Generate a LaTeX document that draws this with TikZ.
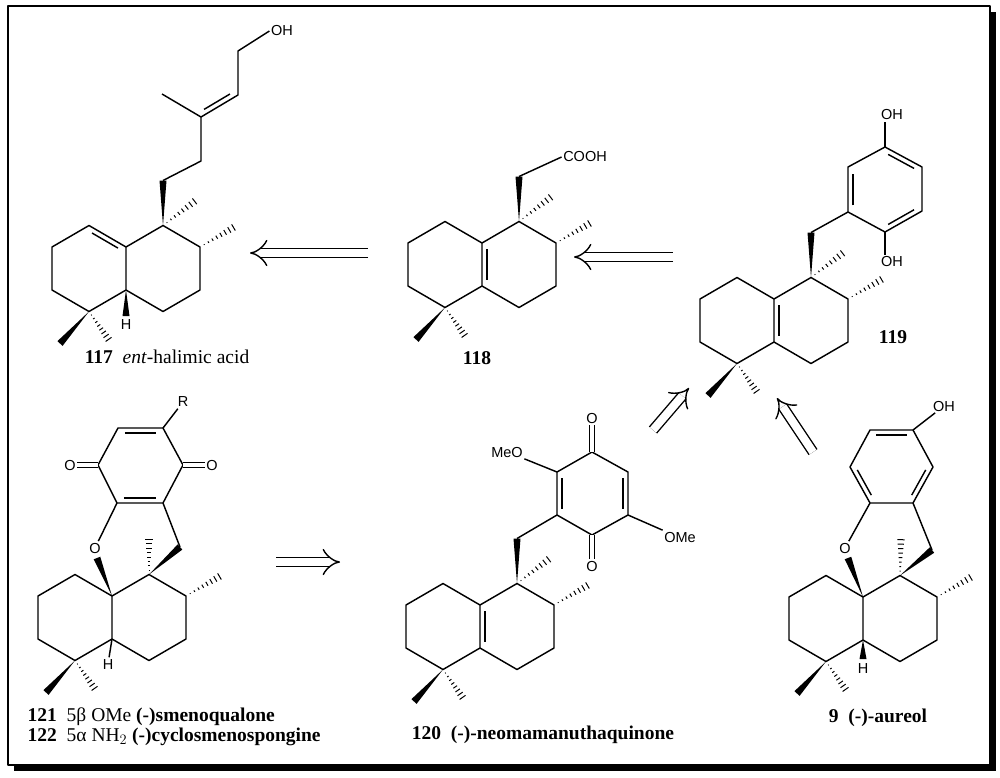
\documentclass[tikz,border=0pt]{standalone}
\usepackage{fontspec}
\setmainfont{Liberation Serif}
\newfontfamily\atomf{Liberation Sans}
\usetikzlibrary{calc,arrows.meta}
\newcommand\hb[2]{\foreach \i in {1,...,8}{\path (#1) -- (#2) coordinate[pos=\i/8.6] (hp); \draw[line width=1pt] ($(hp)!{\i*0.45pt}!90:(#2)$) -- ($(hp)!{\i*0.45pt}!-90:(#2)$);}}
\newcommand\wdg[2]{\fill (#1) -- ($(#2)!3.5pt!90:(#1)$) -- ($(#2)!3.5pt!-90:(#1)$) -- cycle;}
\newcommand\inr[3]{\draw ($(#1)!0.15!(#2)+(#3)$) -- ($(#2)!0.15!(#1)+(#3)$);}
\newcommand\dec[3]{%
\coordinate (#1F) at (#2,#3);
\coordinate (#1A) at ($(#1F)+(0,43)$);
\coordinate (#1L1) at ($(#1F)+(-37,-21.5)$);
\coordinate (#1L2) at ($(#1F)+(-74,0)$);
\coordinate (#1L3) at ($(#1F)+(-74,43)$);
\coordinate (#1L4) at ($(#1F)+(-37,64.5)$);
\coordinate (#1R1) at ($(#1F)+(37,-21.5)$);
\coordinate (#1R2) at ($(#1F)+(74,0)$);
\coordinate (#1R3) at ($(#1F)+(74,43)$);
\coordinate (#1R4) at ($(#1F)+(37,64.5)$);
\coordinate (#1M1) at ($(#1L4)+(-29,32)$);
\coordinate (#1M2) at ($(#1L4)+(21,30)$);
\coordinate (#1M3) at ($(#1R2)+(36,-21)$);
\draw (#1F)--(#1L1)--(#1L2)--(#1L3)--(#1L4)--(#1A)--cycle;
\draw (#1F)--(#1R1)--(#1R2)--(#1R3)--(#1R4)--(#1A);
\wdg{#1L4}{#1M1}\hb{#1L4}{#1M2}\hb{#1R2}{#1M3}}
\newcommand\stdC[1]{%
\coordinate (#1CH) at ($(#1R1)+(0,-45)$);
\coordinate (#1M4) at ($(#1R1)+(34,-26)$);
\wdg{#1R1}{#1CH}\hb{#1R1}{#1M4}}
\tikzset{bond/.style={line width=1.45pt,line join=round},
 atm/.style={font=\atomf\fontsize{14.5}{16}\selectfont,inner sep=1pt},
 lab/.style={font=\fontsize{19.5}{21}\selectfont,inner sep=0pt},
 retro/.style={double,double distance=8pt,line width=1.4pt,-{Implies[scale=1.35]}}}
\begin{document}
\begin{tikzpicture}[x=1pt,y=-1pt,bond]
\useasboundingbox (0,0) rectangle (1000,777);
\draw[line width=1.3pt] (8,6) rectangle (990,765);
\fill (990,12) rectangle (996,771);
\fill (14,765) rectangle (996,771);
% ---- 117
\dec{a}{126}{247}
\stdC{a}
\inr{aF}{aL1}{-2.5,4.3}
\coordinate (aH) at (126,316);
\wdg{aA}{aH}
\node[atm] (aHl) at (126,325) {H};
\coordinate (s1) at (201,161);
\coordinate (s2) at (201,117);
\coordinate (s3) at (162,94);
\coordinate (s4) at (238,95);
\coordinate (s5) at (238,51);
\node[atm] (aOH) at (282,31) {OH};
\draw (aCH)--(s1)--(s2)--(s3);
\draw (s2)--(s4)--(s5)--(aOH.west);
\inr{s2}{s4}{-2.5,-4.3}
\node[lab] at (167,357) {\textbf{117}\enspace\textit{ent}-halimic acid};
% ---- 118
\dec{b}{482}{243}
\stdC{b}
\inr{bF}{bA}{5,0}
\node[atm] (bCO) at (585,157) {COOH};
\draw (bCH) -- (bCO.west);
\node[lab] at (477,358) {\textbf{118}};
% ---- 119
\dec{c}{774}{299}
\stdC{c}
\inr{cF}{cA}{5,0}
\coordinate (c1) at (848,212);
\coordinate (c2) at (848,167);
\coordinate (c3) at (885,147);
\coordinate (c4) at (922,167);
\coordinate (c5) at (922,211);
\coordinate (c6) at (885,232);
\draw (cCH)--(c1);
\draw (c1)--(c2)--(c3)--(c4)--(c5)--(c6)--cycle;
\inr{c1}{c2}{5,0}
\inr{c3}{c4}{-2.4,4.4}
\inr{c5}{c6}{-2.4,-4.4}
\node[atm] (cO1) at (892,115) {OH};
\node[atm] (cO2) at (892,262) {OH};
\draw (c3) -- (cO1.south -| c3);
\draw (c6) -- (cO2.north -| c6);
\node[lab] at (893,337) {\textbf{119}};
% ---- 120
\dec{d}{480}{605}
\stdC{d}
\inr{dF}{dA}{5,0}
\coordinate (d1) at (557,515);
\coordinate (d2) at (557,472);
\coordinate (d3) at (592,452);
\coordinate (d4) at (628,472);
\coordinate (d5) at (628,515);
\coordinate (d6) at (592,535);
\draw (dCH)--(d1);
\draw (d1)--(d2)--(d3)--(d4)--(d5)--(d6)--cycle;
\inr{d1}{d2}{5,0}
\inr{d4}{d5}{-5,0}
\node[atm] (dO1) at (592,418) {O};
\node[atm] (dO2) at (592,566) {O};
\draw[double distance=3.5pt] (d3) -- (dO1);
\draw[double distance=3.5pt] (d6) -- (dO2);
\node[atm] (dMe1) at (507,452) {MeO};
\node[atm] (dMe2) at (680,537) {OMe};
\draw (d2) -- (dMe1.south east);
\draw (d5) -- (dMe2.north west);
\node[lab] at (543,735) {\textbf{120\enspace(-)-neomamanuthaquinone}};
% ---- 121
\dec{e}{112}{596}
\coordinate (e1) at (117,503);
\coordinate (e2) at (98,465);
\coordinate (e3) at (118,428);
\coordinate (e4) at (163,428);
\coordinate (e5) at (183,465);
\coordinate (e6) at (163,503);
\draw (e1)--(e2)--(e3)--(e4)--(e5)--(e6)--cycle;
\inr{e1}{e6}{0,-5}
\inr{e3}{e4}{0,5}
\node[atm] (eO) at (95,548) {O};
\draw (e1) -- (eO);
\coordinate (eOw) at (97,558);
\wdg{eF}{eOw}
\coordinate (eCH) at (180,547);
\draw (e6) -- (eCH);
\wdg{eR1}{eCH}
\coordinate (eMu) at (149,537);
\hb{eR1}{eMu}
\node[atm] (eOl) at (70,465) {O};
\node[atm] (eOr) at (212,465) {O};
\draw[double distance=3.5pt] (e2) -- (eOl);
\draw[double distance=3.5pt] (e5) -- (eOr);
\node[atm] (eR) at (183,402) {R};
\draw (e4) -- (eR);
\node[atm] (eH) at (108,664) {H};
\draw (eA) -- (eH);
\node[lab,anchor=west] at (27,717) {\textbf{121}\enspace5β OMe \textbf{(-)smenoqualone}};
\node[lab,anchor=west] at (27,737) {\textbf{122}\enspace5α NH$_2$ \textbf{(-)cyclosmenospongine}};
% ---- 9
\dec{f}{863}{597}
\coordinate (f1) at (870,503);
\coordinate (f2) at (850,467);
\coordinate (f3) at (870,430);
\coordinate (f4) at (913,430);
\coordinate (f5) at (933,467);
\coordinate (f6) at (913,503);
\draw (f1)--(f2)--(f3)--(f4)--(f5)--(f6)--cycle;
\inr{f1}{f2}{4.3,-2.5}
\inr{f3}{f4}{0,5}
\inr{f5}{f6}{-4.3,-2.5}
\node[atm] (fOH) at (944,406) {OH};
\draw (f4) -- (fOH);
\node[atm] (fO) at (845,548) {O};
\draw (f1) -- (fO);
\coordinate (fOw) at (848,558);
\wdg{fF}{fOw}
\coordinate (fCH) at (932,550);
\draw (f6) -- (fCH);
\wdg{fR1}{fCH}
\coordinate (fMu) at (901,537);
\hb{fR1}{fMu}
\coordinate (fH) at (863,659);
\wdg{fA}{fH}
\node[atm] (fHl) at (863,668) {H};
\node[lab] at (878,718) {\textbf{9\enspace(-)-aureol}};
% ---- retro arrows
\coordinate (r1t) at (368,253); \coordinate (r1h) at (250,253);
\coordinate (r2t) at (673,257); \coordinate (r2h) at (574,257);
\coordinate (r3t) at (276,562); \coordinate (r3h) at (340,562);
\coordinate (r4t) at (653,430); \coordinate (r4h) at (689,388);
\coordinate (r5t) at (813,452); \coordinate (r5h) at (777,398);
\foreach \a in {1,...,5}{\draw[retro] (r\a t) -- (r\a h);}
\end{tikzpicture}
\end{document}
